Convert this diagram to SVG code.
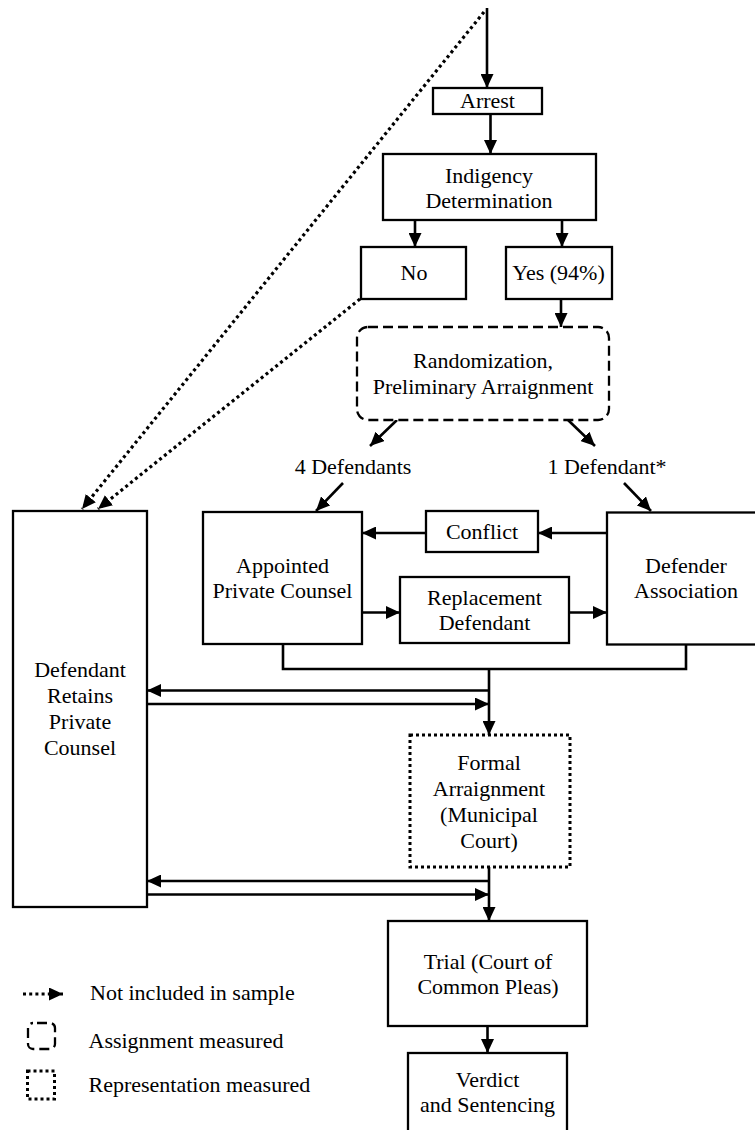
<svg xmlns="http://www.w3.org/2000/svg" width="755" height="1130" viewBox="0 0 755 1130">
<style>
  .box { fill: #fff; stroke: #000; stroke-width: 2.3; }
  .dashbox { fill: #fff; stroke: #000; stroke-width: 2.3; stroke-dasharray: 10 5; }
  .dotbox { fill: #fff; stroke: #000; stroke-width: 3; stroke-dasharray: 3 3; }
  .ln { fill: none; stroke: #000; stroke-width: 2.6; }
  .dot { fill: none; stroke: #000; stroke-width: 3.2; stroke-dasharray: 3 3.2; }
  text { font-family: "Liberation Serif", "DejaVu Serif", serif; font-size: 22px; fill: #000; text-anchor: middle; }
  .lg { text-anchor: start; }
</style>
<defs>
  <marker id="ah" viewBox="0 0 14 13" refX="14" refY="6.5" markerWidth="14" markerHeight="13" markerUnits="userSpaceOnUse" orient="auto">
    <path d="M0,0 L14,6.5 L0,13 z" fill="#000"/>
  </marker>
</defs>

<g id="connectors">
  <line class="ln" x1="487" y1="8" x2="487" y2="88" marker-end="url(#ah)"/>
  <line class="ln" x1="490.5" y1="114" x2="490.5" y2="154" marker-end="url(#ah)"/>
  <line class="ln" x1="415" y1="220" x2="415" y2="247" marker-end="url(#ah)"/>
  <line class="ln" x1="562" y1="220" x2="562" y2="247" marker-end="url(#ah)"/>
  <line class="ln" x1="561" y1="299" x2="561" y2="327" marker-end="url(#ah)"/>
  <line class="dot" x1="484" y1="12" x2="82" y2="509" marker-end="url(#ah)"/>
  <line class="dot" x1="360" y1="299" x2="98" y2="509" marker-end="url(#ah)"/>
  <line class="ln" x1="397" y1="420" x2="370" y2="446" marker-end="url(#ah)"/>
  <line class="ln" x1="568" y1="420" x2="595" y2="446" marker-end="url(#ah)"/>
  <line class="ln" x1="343" y1="483" x2="316" y2="511" marker-end="url(#ah)"/>
  <line class="ln" x1="624" y1="483" x2="651" y2="511" marker-end="url(#ah)"/>
  <line class="ln" x1="607" y1="533" x2="538" y2="533" marker-end="url(#ah)"/>
  <line class="ln" x1="426" y1="533" x2="362" y2="533" marker-end="url(#ah)"/>
  <line class="ln" x1="362" y1="612.5" x2="400" y2="612.5" marker-end="url(#ah)"/>
  <line class="ln" x1="569" y1="612.5" x2="607" y2="612.5" marker-end="url(#ah)"/>
  <path class="ln" d="M283,644 V669 H686 V644"/>
  <line class="ln" x1="489" y1="669" x2="489" y2="735" marker-end="url(#ah)"/>
  <line class="ln" x1="489" y1="690.5" x2="147" y2="690.5" marker-end="url(#ah)"/>
  <line class="ln" x1="147" y1="704" x2="489" y2="704" marker-end="url(#ah)"/>
  <line class="ln" x1="489" y1="867" x2="489" y2="921" marker-end="url(#ah)"/>
  <line class="ln" x1="489" y1="881" x2="147" y2="881" marker-end="url(#ah)"/>
  <line class="ln" x1="147" y1="894.5" x2="489" y2="894.5" marker-end="url(#ah)"/>
  <line class="ln" x1="487.5" y1="1026" x2="487.5" y2="1053" marker-end="url(#ah)"/>
</g>

<g id="arrest">
  <rect class="box" x="433" y="88" width="109" height="26"/>
  <text x="487.5" y="108">Arrest</text>
</g>
<g id="indigency">
  <rect class="box" x="383" y="154" width="213" height="66"/>
  <text x="489" y="183">Indigency</text>
  <text x="489" y="208">Determination</text>
</g>
<g id="no">
  <rect class="box" x="361" y="247" width="105" height="52"/>
  <text x="414" y="280">No</text>
</g>
<g id="yes">
  <rect class="box" x="506" y="247" width="106" height="52"/>
  <text x="558.5" y="280">Yes (94%)</text>
</g>
<g id="randomization">
  <rect class="dashbox" x="357" y="327" width="252" height="93" rx="11" ry="11"/>
  <text x="483" y="367.5">Randomization,</text>
  <text x="483" y="394">Preliminary Arraignment</text>
</g>
<g id="four-defendants">
  <text x="353" y="474">4 Defendants</text>
</g>
<g id="one-defendant">
  <text x="607" y="474">1 Defendant*</text>
</g>
<g id="conflict">
  <rect class="box" x="426" y="511" width="112" height="41"/>
  <text x="482" y="539">Conflict</text>
</g>
<g id="appointed">
  <rect class="box" x="203" y="512" width="159" height="132"/>
  <text x="282.5" y="573">Appointed</text>
  <text x="282.5" y="598">Private Counsel</text>
</g>
<g id="replacement">
  <rect class="box" x="400" y="577" width="169" height="66"/>
  <text x="484.5" y="605">Replacement</text>
  <text x="484.5" y="630">Defendant</text>
</g>
<g id="defender">
  <rect class="box" x="607" y="512.5" width="160" height="132"/>
  <text x="686" y="573">Defender</text>
  <text x="686" y="598">Association</text>
</g>
<g id="retains">
  <rect class="box" x="13" y="511" width="134" height="396"/>
  <text x="80" y="677">Defendant</text>
  <text x="80" y="703">Retains</text>
  <text x="80" y="729">Private</text>
  <text x="80" y="755">Counsel</text>
</g>
<g id="formal">
  <rect class="dotbox" x="410" y="735" width="160" height="132"/>
  <text x="489" y="770">Formal</text>
  <text x="489" y="796">Arraignment</text>
  <text x="489" y="822">(Municipal</text>
  <text x="489" y="848">Court)</text>
</g>
<g id="trial">
  <rect class="box" x="388" y="921" width="199" height="105"/>
  <text x="488" y="969">Trial (Court of</text>
  <text x="488" y="994">Common Pleas)</text>
</g>
<g id="verdict">
  <rect class="box" x="408" y="1053" width="159" height="90"/>
  <text x="487.5" y="1087">Verdict</text>
  <text x="487.5" y="1112">and Sentencing</text>
</g>

<g id="legend">
  <line class="dot" x1="23" y1="994" x2="63" y2="994" marker-end="url(#ah)"/>
  <text class="lg" x="90" y="1000">Not included in sample</text>
  <rect class="dashbox" x="28" y="1023" width="27" height="26" rx="5" ry="5" stroke-dasharray="8 6" stroke-dashoffset="-4"/>
  <text class="lg" x="88.5" y="1048">Assignment measured</text>
  <rect class="dotbox" x="27.5" y="1071" width="27" height="28"/>
  <text class="lg" x="88.5" y="1092">Representation measured</text>
</g>
</svg>
